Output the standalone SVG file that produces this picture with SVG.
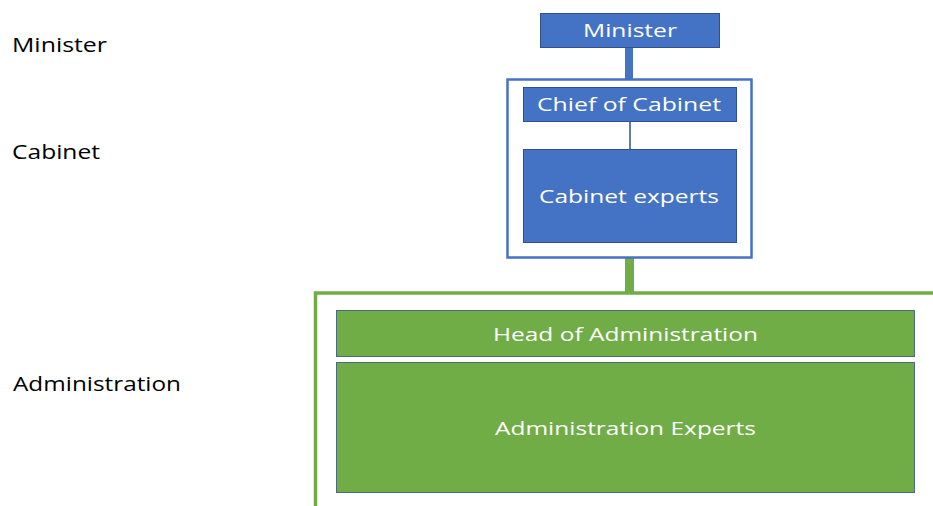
<svg xmlns="http://www.w3.org/2000/svg" width="933" height="506" viewBox="0 0 933 506">
<style>
.lbl{font-family:"Open Sans","Noto Sans","Liberation Sans",sans-serif;font-size:20px;fill:#000}
.bt{font-family:"Open Sans","Noto Sans","Liberation Sans",sans-serif;font-size:18px;fill:#fff}
.blue{fill:#4472C4;stroke:#2F528F;stroke-width:1}
.green{fill:#70AD47;stroke:#4a6a80;stroke-width:1}
</style>
<rect width="933" height="506" fill="#fff"/>
<g id="labels">
<text class="lbl" x="12" y="52" textLength="95" lengthAdjust="spacingAndGlyphs">Minister</text>
<text class="lbl" x="12" y="159" textLength="88" lengthAdjust="spacingAndGlyphs">Cabinet</text>
<text class="lbl" x="13" y="391" textLength="168" lengthAdjust="spacingAndGlyphs">Administration</text>
</g>
<g id="connectors">
<line x1="629" y1="48" x2="629" y2="80" stroke="#4472C4" stroke-width="8"/>
<line x1="630" y1="122" x2="630" y2="149" stroke="#2F528F" stroke-width="1.5"/>
<line x1="629.5" y1="257" x2="629.5" y2="293" stroke="#70AD47" stroke-width="9"/>
</g>
<g id="cabinet-frame">
<rect x="507.5" y="79.5" width="244" height="178" fill="none" stroke="#4472C4" stroke-width="2.5"/>
</g>
<g id="administration-frame">
<polyline points="315.5,506 315.5,293 933,293" fill="none" stroke="#70AD47" stroke-width="3.5"/>
</g>
<g id="minister">
<rect class="blue" x="540.5" y="13.5" width="179" height="34"/>
<text class="bt" x="583" y="37" textLength="94" lengthAdjust="spacingAndGlyphs">Minister</text>
</g>
<g id="chief-of-cabinet">
<rect class="blue" x="523.5" y="87.5" width="213" height="34"/>
<text class="bt" x="537" y="111" textLength="184" lengthAdjust="spacingAndGlyphs">Chief of Cabinet</text>
</g>
<g id="cabinet-experts">
<rect class="blue" x="523.5" y="149.5" width="213" height="93"/>
<text class="bt" x="539" y="203" textLength="180" lengthAdjust="spacingAndGlyphs">Cabinet experts</text>
</g>
<g id="head-of-administration">
<rect class="green" x="336.5" y="310.5" width="578" height="46"/>
<text class="bt" x="493" y="341" textLength="265" lengthAdjust="spacingAndGlyphs">Head of Administration</text>
</g>
<g id="administration-experts">
<rect class="green" x="336.5" y="362.5" width="578" height="130"/>
<text class="bt" x="495" y="435" textLength="261" lengthAdjust="spacingAndGlyphs">Administration Experts</text>
</g>
</svg>
